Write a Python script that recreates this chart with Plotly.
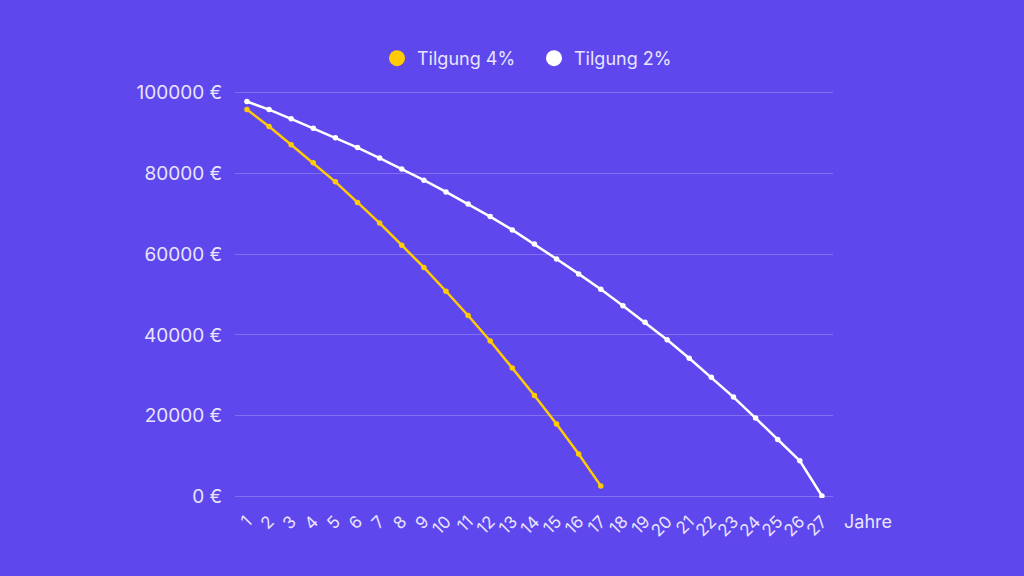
import plotly.graph_objects as go

years = list(range(1, 28))
tilgung_4 = [95800, 91600, 87100, 82600, 77900, 72800, 67700, 62200, 56700, 50800,
             44800, 38500, 31800, 25000, 17900, 10500, 2600]
tilgung_2 = [97800, 95800, 93500, 91200, 88800, 86400, 83800, 81100, 78300, 75400,
             72400, 69300, 66000, 62500, 58800, 55100, 51300, 47200, 43100, 38800,
             34200, 29500, 24600, 19400, 14100, 8800, 100]
y_ticks = [0, 20000, 40000, 60000, 80000, 100000]
y_labels = [f"{v} €" for v in y_ticks]

BG = "#5E47EC"
YELLOW = "#FFCB05"
WHITE = "#FFFFFF"
TXT = "#E8E4FF"
FONT = "Inter"

fig = go.Figure()
fig.add_trace(go.Scatter(x=years[:len(tilgung_4)], y=tilgung_4, mode="lines+markers",
                         line=dict(color=YELLOW, width=2.5), marker=dict(size=5.5, color=YELLOW),
                         showlegend=False, name="Tilgung 4%"))
fig.add_trace(go.Scatter(x=years[:len(tilgung_2)], y=tilgung_2, mode="lines+markers",
                         line=dict(color=WHITE, width=2.5), marker=dict(size=5.5, color=WHITE),
                         showlegend=False, name="Tilgung 2%"))
# legend entries (circle only)
fig.add_trace(go.Scatter(x=[None], y=[None], mode="markers", name="Tilgung 4%",
                         marker=dict(size=18, color=YELLOW)))
fig.add_trace(go.Scatter(x=[None], y=[None], mode="markers", name="Tilgung 2%",
                         marker=dict(size=18, color=WHITE)))

fig.update_layout(
    width=1024, height=576, autosize=False,
    paper_bgcolor=BG, plot_bgcolor=BG,
    margin=dict(l=235, r=191, t=91, b=78),
    font=dict(family=FONT, color=TXT, size=18),
    legend=dict(orientation="h", x=0.5, xanchor="center", y=1.08, yanchor="middle",
                font=dict(size=18, color=TXT), itemsizing="trace", itemwidth=30,
                entrywidth=112),
    xaxis=dict(range=[0.46, 27.5], tickmode="array", tickvals=years,
               ticktext=[str(y) for y in years], tickangle=-45,
               showgrid=False, zeroline=False, showline=False,
               tickfont=dict(size=17, color=TXT), ticks="outside", ticklen=6,
               tickcolor="rgba(0,0,0,0)"),
    yaxis=dict(range=[-400, 100400], tickmode="array", tickvals=y_ticks, ticktext=y_labels,
               showgrid=True, gridcolor="rgba(255,255,255,0.22)", gridwidth=1,
               zeroline=False, showline=False, tickfont=dict(size=19, color=TXT),
               ticks="outside", ticklen=8, tickcolor="rgba(0,0,0,0)"),
    annotations=[dict(text="Jahre", x=1.015, y=-0.057, xref="paper", yref="paper",
                      xanchor="left", yanchor="middle", showarrow=False,
                      font=dict(size=18, color=TXT))],
)

fig.write_html("out.html", config={"displayModeBar": False},
               post_script="document.body.style.margin='0';document.body.style.background='" + BG + "';")
